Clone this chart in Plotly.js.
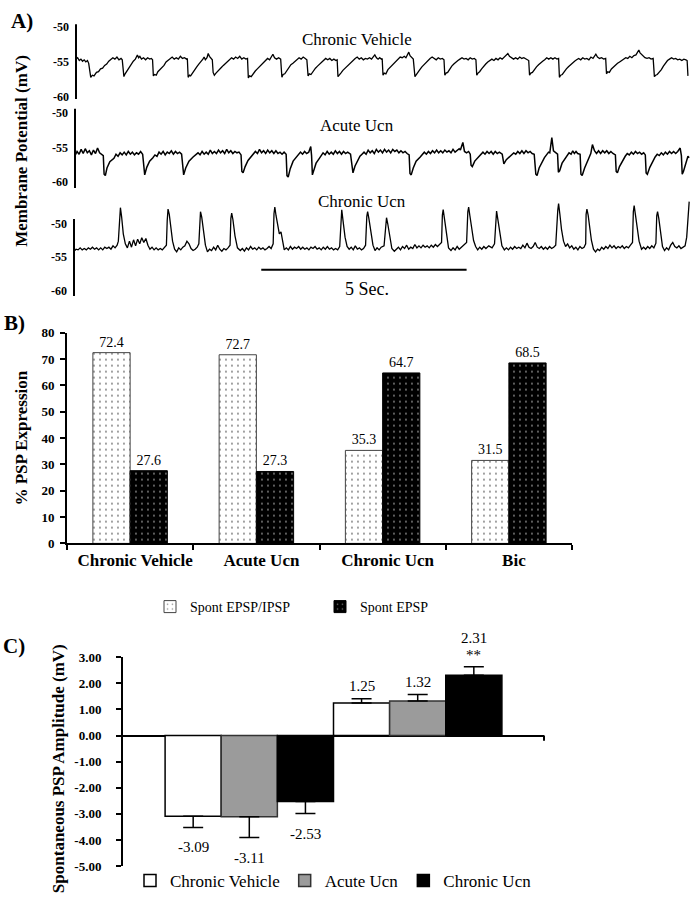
<!DOCTYPE html>
<html>
<head>
<meta charset="utf-8">
<script src="https://cdn.plot.ly/plotly-3.0.1.min.js"></script>
<style>html,body{margin:0;padding:0;background:#fff;}#chart{width:698px;height:899px;}</style>
</head>
<body>
<div id="chart"></div>
<script>
// ---------- Panel A: membrane potential traces [time (s), mV] ----------
const traceChronicVehicle = [
[0.00,-54.6],[0.04,-54.4],[0.08,-54.8],[0.12,-54.6],[0.16,-54.9],[0.20,-54.7],[0.24,-55.0],[0.28,-54.8],[0.31,-55.2],
[0.34,-56.6],[0.36,-57.2],[0.40,-56.9],[0.44,-57.0],[0.50,-56.5],[0.55,-56.4],[0.60,-56.0],[0.65,-55.9],[0.70,-55.5],[0.75,-55.3],[0.80,-54.9],[0.85,-54.7],[0.90,-54.4],[0.95,-54.6],[1.00,-54.3],[1.05,-54.7],[1.10,-54.5],[1.13,-54.7],
[1.15,-56.8],[1.17,-57.1],[1.20,-56.7],[1.25,-56.2],[1.30,-55.8],[1.35,-55.4],[1.40,-54.9],[1.45,-54.6],[1.50,-54.0],[1.53,-54.4],[1.56,-54.2],[1.60,-54.6],[1.65,-54.4],[1.70,-54.7],[1.75,-54.4],[1.80,-54.6],[1.84,-54.5],[1.87,-54.7],
[1.89,-57.0],[1.92,-56.8],[1.96,-56.9],[2.00,-56.4],[2.05,-56.1],[2.10,-55.7],[2.15,-55.5],[2.20,-55.0],[2.25,-54.8],[2.30,-54.5],[2.35,-54.3],[2.40,-54.6],[2.45,-54.4],[2.50,-54.6],[2.55,-54.2],[2.60,-54.5],[2.65,-54.4],[2.70,-54.6],[2.72,-54.5],
[2.74,-57.2],[2.77,-56.9],[2.80,-57.0],[2.85,-56.5],[2.90,-56.1],[2.95,-55.7],[3.00,-55.3],[3.05,-55.0],[3.10,-54.6],[3.13,-54.3],[3.16,-54.7],[3.20,-54.4],[3.23,-53.8],[3.26,-54.2],[3.30,-54.5],[3.33,-54.7],
[3.35,-56.5],[3.38,-56.9],[3.42,-56.6],[3.46,-56.3],[3.50,-56.1],[3.55,-55.8],[3.60,-55.5],[3.65,-55.2],[3.70,-54.9],[3.75,-54.7],[3.80,-54.4],[3.85,-54.6],[3.90,-54.3],[3.95,-54.5],[4.00,-54.2],[4.05,-54.6],[4.10,-54.4],[4.15,-54.6],[4.19,-54.5],
[4.21,-57.3],[4.24,-57.0],[4.28,-57.1],[4.33,-56.6],[4.38,-56.3],[4.43,-56.0],[4.48,-55.7],[4.53,-55.5],[4.58,-55.2],[4.63,-54.9],[4.68,-54.5],[4.73,-54.7],[4.78,-54.2],[4.81,-53.9],[4.85,-54.4],[4.90,-54.6],[4.95,-54.4],[5.00,-54.6],
[5.03,-57.2],[5.06,-56.8],[5.10,-56.7],[5.15,-56.2],[5.20,-55.8],[5.25,-55.4],[5.30,-55.2],[5.35,-54.9],[5.40,-54.6],[5.45,-54.4],[5.50,-54.6],[5.55,-54.3],[5.60,-54.5],[5.64,-54.7],
[5.67,-57.0],[5.70,-56.7],[5.74,-56.8],[5.80,-56.2],[5.85,-55.9],[5.90,-55.6],[5.95,-55.3],[6.00,-55.1],[6.05,-54.8],[6.10,-54.5],[6.15,-54.7],[6.20,-54.5],[6.25,-54.8],[6.30,-54.6],[6.35,-54.8],[6.38,-54.7],
[6.40,-57.1],[6.43,-56.8],[6.47,-56.6],[6.52,-56.2],[6.57,-55.9],[6.62,-55.6],[6.67,-55.3],[6.72,-55.0],[6.77,-54.8],[6.82,-54.5],[6.87,-54.3],[6.92,-54.6],[6.97,-54.4],[7.02,-54.7],[7.07,-54.5],[7.12,-54.6],[7.17,-54.4],[7.22,-54.6],[7.27,-54.2],[7.30,-54.0],[7.34,-54.4],[7.38,-54.6],[7.42,-54.4],[7.46,-54.6],[7.48,-54.5],
[7.50,-56.9],[7.53,-56.6],[7.57,-56.7],[7.62,-56.1],[7.67,-55.8],[7.72,-55.5],[7.77,-55.2],[7.82,-54.9],[7.87,-54.6],[7.92,-54.3],[7.97,-54.4],[8.02,-54.2],[8.06,-54.4],[8.10,-53.8],[8.13,-53.6],[8.16,-54.1],[8.20,-54.4],[8.24,-54.6],
[8.28,-57.1],[8.31,-56.8],[8.35,-56.6],[8.40,-56.1],[8.45,-55.7],[8.50,-55.4],[8.55,-55.0],[8.60,-54.8],[8.65,-54.5],[8.70,-54.3],[8.75,-54.5],[8.80,-54.7],[8.85,-54.4],[8.90,-54.6],[8.95,-54.5],[8.99,-54.7],
[9.01,-56.9],[9.04,-56.6],[9.08,-56.5],[9.13,-56.0],[9.18,-55.6],[9.23,-55.3],[9.28,-55.0],[9.33,-54.8],[9.38,-54.6],[9.43,-54.4],[9.48,-54.6],[9.53,-54.5],[9.58,-54.7],[9.63,-54.4],[9.68,-54.6],[9.73,-54.5],[9.77,-54.7],
[9.79,-56.9],[9.82,-56.6],[9.86,-56.4],[9.91,-56.0],[9.96,-55.6],[10.01,-55.3],[10.06,-55.0],[10.11,-54.8],[10.16,-54.6],[10.21,-54.8],[10.26,-54.5],[10.31,-54.7],[10.36,-54.4],[10.41,-54.6],[10.46,-54.3],[10.51,-54.1],[10.55,-53.8],[10.59,-54.2],[10.64,-54.4],[10.69,-54.6],[10.74,-54.4],[10.79,-54.6],[10.84,-54.3],[10.89,-54.5],[10.94,-54.4],[10.99,-54.6],[11.03,-54.7],[11.06,-54.8],
[11.08,-56.9],[11.11,-56.6],[11.15,-56.5],[11.20,-56.0],[11.25,-55.7],[11.30,-55.4],[11.35,-55.1],[11.40,-54.9],[11.45,-54.7],[11.50,-54.4],[11.55,-54.6],[11.60,-54.4],[11.65,-54.6],[11.70,-54.4],[11.75,-54.6],[11.79,-54.5],
[11.81,-57.2],[11.84,-56.9],[11.88,-56.8],[11.93,-56.3],[11.98,-56.0],[12.03,-55.7],[12.08,-55.4],[12.13,-55.2],[12.18,-54.9],[12.23,-54.7],[12.28,-54.5],[12.33,-54.7],[12.38,-54.4],[12.43,-54.6],[12.48,-54.5],[12.53,-54.7],[12.58,-54.3],[12.63,-54.5],[12.67,-54.1],[12.70,-53.9],[12.74,-54.3],[12.79,-54.5],[12.84,-54.4],[12.89,-54.6],[12.94,-54.5],
[12.96,-56.7],[12.99,-56.4],[13.03,-56.5],[13.08,-56.0],[13.13,-55.7],[13.18,-55.5],[13.23,-55.2],[13.28,-55.0],[13.33,-54.8],[13.38,-54.6],[13.43,-54.4],[13.48,-54.5],[13.53,-54.2],[13.58,-54.4],[13.63,-54.1],[13.68,-54.0],[13.72,-53.6],[13.75,-53.3],[13.78,-53.7],[13.82,-53.9],[13.86,-54.2],[13.90,-54.4],[13.95,-54.5],[14.00,-54.4],[14.05,-54.6],[14.10,-54.5],
[14.13,-57.1],[14.16,-56.9],[14.20,-56.8],[14.25,-56.5],[14.30,-56.1],[14.35,-55.6],[14.40,-55.1],[14.45,-54.8],[14.50,-54.6],[14.55,-54.4],[14.60,-54.6],[14.65,-54.5],[14.70,-54.7],[14.75,-54.6],[14.80,-54.8],[14.85,-54.6],[14.90,-54.7],[14.93,-54.8],[14.95,-57.0]
];
const traceAcuteUcn = [
[0.00,-56.2],[0.05,-55.6],[0.10,-56.0],[0.15,-55.3],[0.20,-55.9],[0.25,-55.2],[0.30,-55.8],[0.35,-55.5],[0.40,-56.1],[0.45,-55.4],[0.50,-55.9],[0.55,-55.1],[0.60,-55.8],[0.65,-56.0],
[0.69,-56.2],[0.71,-58.9],[0.74,-59.1],[0.78,-58.0],[0.85,-57.1],[0.95,-56.6],[1.00,-56.0],[1.05,-56.3],[1.10,-55.8],[1.15,-56.1],[1.20,-55.7],[1.25,-56.1],[1.30,-55.6],[1.35,-56.0],[1.40,-55.7],[1.45,-56.1],[1.50,-55.8],[1.55,-56.0],[1.60,-55.6],[1.65,-56.0],
[1.68,-58.8],[1.70,-59.0],[1.75,-57.9],[1.82,-57.0],[1.90,-56.5],[1.95,-56.1],[2.00,-56.3],[2.05,-55.7],[2.10,-56.0],[2.15,-55.6],[2.20,-56.1],[2.25,-55.7],[2.30,-55.9],[2.35,-55.5],[2.40,-56.0],[2.45,-55.6],[2.50,-55.9],[2.55,-55.7],[2.60,-56.0],
[2.63,-58.7],[2.65,-59.0],[2.70,-58.0],[2.78,-57.0],[2.88,-56.4],[2.95,-56.1],[3.00,-55.8],[3.05,-56.1],[3.10,-55.6],[3.15,-56.0],[3.20,-55.7],[3.25,-56.0],[3.30,-55.4],[3.35,-55.9],[3.40,-55.6],[3.45,-55.9],[3.50,-55.4],[3.55,-55.8],[3.60,-55.5],[3.65,-55.9],[3.70,-55.3],[3.75,-55.8],[3.80,-55.5],[3.85,-55.9],[3.90,-55.6],[3.95,-55.8],[4.00,-55.7],[4.05,-56.1],
[4.07,-58.5],[4.10,-58.7],[4.15,-57.8],[4.22,-56.9],[4.30,-56.3],[4.35,-55.9],[4.40,-55.6],[4.45,-55.9],[4.50,-55.3],[4.55,-55.8],[4.60,-55.5],[4.65,-55.9],[4.70,-55.4],[4.75,-55.8],[4.80,-55.5],[4.85,-55.9],[4.90,-55.5],[4.95,-55.9],[5.00,-55.7],[5.05,-56.0],[5.10,-55.7],[5.15,-56.0],
[5.17,-59.1],[5.20,-59.3],[5.25,-58.1],[5.32,-57.0],[5.40,-56.4],[5.45,-56.0],[5.50,-55.7],[5.55,-56.0],[5.60,-55.6],[5.65,-55.9],[5.70,-55.7],[5.75,-54.9],[5.77,-56.2],
[5.79,-59.0],[5.82,-58.4],[5.88,-57.3],[5.96,-56.6],[6.00,-56.2],[6.05,-55.8],[6.10,-56.1],[6.15,-55.6],[6.20,-56.0],[6.25,-55.7],[6.30,-56.0],[6.35,-55.5],[6.40,-55.9],[6.45,-55.6],[6.50,-56.0],[6.55,-55.6],[6.60,-55.9],[6.65,-55.7],[6.72,-56.0],
[6.76,-58.5],[6.78,-58.7],[6.83,-57.7],[6.90,-56.8],[6.95,-56.3],[7.00,-56.0],[7.05,-55.7],[7.10,-56.0],[7.15,-55.4],[7.20,-55.8],[7.25,-55.5],[7.30,-55.9],[7.35,-55.3],[7.40,-55.7],[7.45,-55.4],[7.50,-55.8],[7.55,-55.3],[7.60,-55.7],[7.65,-55.4],[7.70,-55.8],[7.75,-55.3],[7.80,-55.6],[7.85,-55.4],[7.90,-55.8],[7.95,-55.5],[8.00,-55.8],[8.05,-55.6],[8.10,-55.9],[8.15,-56.1],
[8.17,-58.8],[8.20,-59.0],[8.25,-58.0],[8.32,-57.0],[8.42,-56.4],[8.47,-56.0],[8.52,-55.7],[8.57,-56.0],[8.62,-55.6],[8.67,-55.9],[8.72,-55.5],[8.77,-55.8],[8.82,-55.4],[8.87,-55.8],[8.92,-55.5],[8.97,-55.8],[9.02,-55.4],[9.07,-55.7],[9.12,-55.5],[9.17,-55.8],[9.22,-55.3],[9.27,-55.7],[9.32,-55.5],[9.37,-55.2],[9.40,-55.4],[9.46,-54.3],[9.50,-55.6],[9.55,-55.8],[9.60,-55.6],[9.64,-56.0],
[9.66,-57.6],[9.69,-57.8],[9.75,-57.0],[9.85,-56.4],[9.90,-56.0],[9.95,-55.7],[10.00,-56.0],[10.05,-55.6],[10.10,-55.9],[10.15,-55.6],[10.20,-56.0],[10.25,-55.6],[10.30,-55.9],[10.35,-55.7],[10.42,-56.0],
[10.44,-57.2],[10.46,-57.4],[10.52,-56.8],[10.60,-56.3],[10.65,-56.0],[10.70,-55.8],[10.75,-56.0],[10.80,-55.6],[10.85,-55.9],[10.90,-55.5],[10.95,-55.9],[11.00,-55.5],[11.05,-55.8],[11.10,-55.6],[11.15,-55.9],[11.20,-56.0],
[11.24,-58.9],[11.27,-59.1],[11.32,-58.0],[11.40,-57.0],[11.45,-56.5],[11.50,-56.1],[11.55,-55.7],[11.58,-55.8],[11.63,-53.6],[11.67,-55.5],[11.73,-55.8],[11.77,-56.0],
[11.79,-58.6],[11.82,-58.4],[11.88,-57.3],[11.96,-56.5],[12.01,-56.1],[12.05,-55.8],[12.10,-56.0],[12.14,-55.5],[12.18,-55.9],[12.22,-55.6],[12.26,-55.9],[12.32,-56.0],
[12.34,-58.9],[12.37,-59.1],[12.43,-58.0],[12.50,-57.0],[12.55,-56.2],[12.58,-55.9],[12.62,-54.6],[12.67,-55.5],[12.72,-55.9],[12.77,-55.5],[12.82,-55.9],[12.87,-55.5],[12.92,-55.8],[12.97,-55.5],[13.02,-55.9],[13.07,-55.6],[13.12,-55.9],[13.18,-56.1],
[13.20,-58.5],[13.23,-58.7],[13.28,-57.8],[13.36,-56.8],[13.42,-56.3],[13.47,-55.9],[13.52,-56.1],[13.57,-55.7],[13.62,-56.0],[13.67,-55.6],[13.72,-55.9],[13.77,-55.7],[13.82,-56.0],[13.87,-55.8],[13.91,-56.1],
[13.93,-58.7],[13.96,-58.9],[14.02,-57.9],[14.10,-56.9],[14.15,-56.4],[14.20,-56.0],[14.25,-56.2],[14.30,-55.8],[14.35,-56.1],[14.40,-55.7],[14.45,-56.0],[14.50,-55.6],[14.55,-55.9],[14.60,-55.6],[14.65,-55.9],[14.70,-55.6],[14.76,-55.1],[14.79,-56.2],
[14.81,-58.9],[14.84,-58.5],[14.90,-57.2],[14.95,-56.3],[14.98,-56.5]
];
const traceChronicUcn = [
[0.00,-54.1],[0.05,-53.8],[0.10,-53.9],[0.15,-53.6],[0.20,-53.9],[0.25,-53.7],[0.30,-53.9],[0.35,-53.6],[0.40,-53.8],[0.45,-53.5],[0.50,-53.8],[0.55,-53.6],[0.60,-53.9],[0.65,-53.6],[0.70,-53.9],[0.75,-53.5],[0.80,-53.7],[0.85,-53.5],[0.90,-53.8],[0.95,-53.3],[1.00,-53.6],[1.05,-53.2],
[1.08,-52.6],[1.11,-48.5],[1.13,-47.6],[1.16,-49.0],[1.20,-51.5],[1.25,-53.0],[1.30,-53.6],[1.35,-52.6],[1.40,-53.5],[1.45,-52.4],[1.50,-53.3],[1.55,-52.3],[1.60,-53.0],[1.65,-52.1],[1.70,-52.8],[1.75,-52.2],[1.80,-53.2],[1.85,-53.8],[1.90,-53.5],[1.95,-53.9],[2.00,-53.6],[2.05,-53.9],[2.10,-53.7],[2.15,-53.9],[2.20,-53.6],[2.25,-53.2],
[2.27,-49.5],[2.29,-47.8],[2.32,-48.6],[2.36,-50.6],[2.40,-52.6],[2.45,-53.8],[2.50,-54.2],[2.55,-53.6],[2.60,-53.9],[2.65,-53.5],[2.70,-53.3],[2.75,-52.6],[2.80,-53.0],[2.85,-53.7],[2.90,-54.0],[2.95,-53.8],[3.00,-53.5],[3.04,-53.0],
[3.06,-49.0],[3.08,-48.2],[3.11,-49.0],[3.15,-51.2],[3.20,-53.2],[3.25,-54.2],[3.30,-53.8],[3.35,-54.0],[3.40,-53.5],[3.45,-53.9],[3.50,-53.2],[3.55,-53.8],[3.60,-54.1],[3.65,-53.7],[3.70,-53.9],[3.75,-53.6],[3.80,-53.2],
[3.82,-49.2],[3.84,-48.4],[3.87,-49.4],[3.92,-51.8],[3.98,-53.6],[4.05,-54.0],[4.10,-53.7],[4.15,-54.1],[4.20,-53.6],[4.25,-53.9],[4.30,-53.4],[4.35,-53.8],[4.40,-53.6],[4.45,-53.9],[4.50,-53.5],[4.55,-53.8],[4.60,-53.6],[4.65,-53.9],[4.70,-53.7],[4.75,-53.4],[4.80,-53.7],[4.85,-53.0],
[4.87,-48.5],[4.89,-47.5],[4.92,-48.8],[4.96,-50.2],[5.00,-51.5],[5.04,-51.2],[5.08,-52.8],[5.12,-53.9],[5.17,-53.6],[5.22,-53.9],[5.27,-53.4],[5.32,-53.8],[5.37,-53.5],[5.42,-53.7],[5.47,-53.4],[5.52,-53.8],[5.57,-53.5],[5.62,-53.8],[5.67,-53.6],[5.72,-53.9],[5.77,-53.5],[5.82,-53.7],[5.87,-53.4],[5.92,-53.8],[5.97,-53.6],[6.02,-53.9],[6.07,-53.5],[6.12,-53.8],[6.17,-53.4],[6.22,-53.8],[6.27,-53.6],[6.32,-53.9],[6.37,-53.7],[6.42,-53.9],[6.47,-53.4],
[6.50,-48.8],[6.52,-47.9],[6.55,-49.5],[6.60,-52.0],[6.65,-53.4],[6.70,-53.8],[6.75,-53.5],[6.80,-53.9],[6.85,-53.3],[6.90,-53.8],[6.95,-53.6],[7.00,-53.9],[7.05,-53.7],[7.10,-53.2],
[7.13,-48.9],[7.15,-48.2],[7.18,-49.2],[7.23,-51.5],[7.28,-53.2],[7.33,-54.0],[7.38,-53.6],[7.43,-53.9],[7.48,-53.5],[7.55,-53.3],
[7.59,-49.8],[7.61,-49.1],[7.64,-50.0],[7.69,-52.2],[7.74,-53.7],[7.80,-54.1],[7.85,-53.8],[7.90,-53.5],[7.95,-53.9],[8.00,-53.4],[8.05,-53.7],[8.10,-53.2],[8.15,-53.8],[8.20,-53.5],[8.25,-53.7],[8.30,-53.1],[8.35,-53.6],[8.40,-53.3],[8.45,-53.6],[8.50,-53.2],[8.55,-53.5],[8.60,-53.3],[8.65,-53.6],[8.70,-53.2],[8.75,-53.5],[8.80,-53.1],[8.85,-53.4],[8.90,-53.1],[8.95,-52.8],
[8.97,-48.7],[8.99,-47.9],[9.02,-49.2],[9.07,-51.8],[9.12,-53.6],[9.18,-54.0],[9.23,-53.6],[9.28,-53.9],[9.33,-53.4],[9.38,-53.8],[9.43,-53.5],[9.50,-53.2],[9.56,-52.8],
[9.59,-48.2],[9.61,-47.5],[9.64,-48.8],[9.68,-50.8],[9.73,-52.5],[9.78,-53.4],[9.83,-53.9],[9.88,-53.5],[9.93,-53.8],[9.98,-53.4],[10.03,-53.7],[10.10,-53.3],[10.18,-53.6],[10.24,-53.0],
[10.27,-48.8],[10.29,-48.1],[10.32,-49.3],[10.37,-51.6],[10.42,-53.3],[10.48,-53.9],[10.53,-53.6],[10.58,-53.9],[10.63,-53.5],[10.68,-53.8],[10.73,-53.4],[10.78,-53.7],[10.83,-53.5],[10.88,-53.7],[10.93,-53.2],[10.98,-53.6],[11.03,-52.9],[11.08,-53.5],[11.13,-53.7],[11.18,-53.4],[11.23,-52.8],[11.28,-53.5],[11.33,-53.7],[11.38,-53.4],[11.43,-53.8],[11.48,-53.5],[11.53,-53.8],[11.58,-53.4],[11.63,-53.7],[11.68,-53.5],[11.73,-53.2],
[11.78,-48.0],[11.80,-47.0],[11.83,-48.5],[11.87,-50.8],[11.92,-52.6],[11.97,-53.4],[12.02,-53.0],[12.07,-53.6],[12.12,-53.3],[12.17,-53.8],[12.22,-53.5],[12.27,-53.9],[12.32,-53.4],[12.37,-53.7],[12.42,-53.5],[12.46,-53.0],
[12.47,-48.6],[12.49,-47.8],[12.52,-48.7],[12.56,-50.5],[12.60,-52.5],[12.65,-53.8],[12.70,-54.2],[12.75,-53.8],[12.80,-54.0],[12.85,-53.5],[12.90,-53.8],[12.95,-53.4],[13.00,-53.7],[13.05,-53.2],[13.10,-53.6],[13.15,-53.3],[13.20,-53.7],[13.25,-53.4],[13.30,-53.6],[13.35,-53.3],[13.40,-53.7],[13.45,-53.4],[13.50,-53.6],[13.55,-53.2],[13.60,-52.8],
[13.62,-48.2],[13.64,-47.3],[13.67,-48.6],[13.71,-50.6],[13.76,-52.6],[13.82,-53.8],[13.87,-53.5],[13.92,-53.8],[13.97,-53.4],[14.02,-53.7],[14.07,-53.3],[14.12,-53.6],[14.17,-52.9],
[14.19,-48.8],[14.21,-48.2],[14.24,-49.2],[14.28,-51.5],[14.33,-53.4],[14.38,-54.0],[14.43,-53.6],[14.48,-53.9],[14.53,-53.2],[14.58,-52.8],[14.63,-53.4],[14.68,-53.6],[14.73,-53.3],[14.78,-53.7],[14.83,-53.5],[14.88,-53.3],[14.92,-52.0],[14.95,-49.5],[14.98,-46.7]
];
const aTickVals = [-60, -55, -50];
const aTickText = ["-60", "-55", "-50"];
const scaleBarSec = [4.56, 9.56];

// ---------- Panel B ----------
const bCategories = ["Chronic Vehicle", "Acute Ucn", "Chronic Ucn", "Bic"];
const bEpspIpsp = [72.4, 71.6, 35.3, 31.5];
const bEpspIpspLabels = ["72.4", "72.7", "35.3", "31.5"];
const bEpsp = [27.6, 27.3, 64.7, 68.5];
const bEpspLabels = ["27.6", "27.3", "64.7", "68.5"];

// ---------- Panel C ----------
const cGroups = ["Spont IPSP", "Spont EPSP"];
const cVehicle = [-3.09, 1.25];
const cVehicleErr = [0.43, 0.16];
const cAcute = [-3.11, 1.32];
const cAcuteErr = [0.80, 0.25];
const cChronic = [-2.53, 2.31];
const cChronicErr = [0.46, 0.33];
const cChronicSig = ["", "**"];
const cTickVals = [-5, -4, -3, -2, -1, 0, 1, 2, 3];
const cTickText = ["-5.00", "-4.00", "-3.00", "-2.00", "-1.00", "0.00", "1.00", "2.00", "3.00"];

// ---------- helpers ----------
const W = 698, H = 899;
const fx = p => p / W;
const fy = p => 1 - p / H;
const FONT = "Liberation Serif";
const col = (arr, i) => arr.map(d => d[i]);
const reg = size => ({family: FONT, size: size, color: 'black'});
const bold = size => ({family: FONT, size: size, color: 'black', weight: 'bold'});

const traces = [];
[[traceChronicVehicle, 'x', 'y', 1.3], [traceAcuteUcn, 'x2', 'y2', 1.5], [traceChronicUcn, 'x3', 'y3', 1.3]].forEach(([d, xa, ya, lw]) => {
  traces.push({type: 'scatter', mode: 'lines', x: col(d, 0), y: col(d, 1), xaxis: xa, yaxis: ya,
    line: {color: 'black', width: lw}, showlegend: false, hoverinfo: 'skip'});
});

traces.push({type: 'bar', name: 'Spont EPSP/IPSP', x: bCategories, y: bEpspIpsp, text: bEpspIpspLabels,
  textposition: 'outside', cliponaxis: false, xaxis: 'x4', yaxis: 'y4', legend: 'legend',
  outsidetextfont: reg(14),
  marker: {color: 'white', line: {color: '#444', width: 1},
    pattern: {shape: '.', size: 6, solidity: 0.08, fgcolor: 'black', bgcolor: 'white', fillmode: 'overlay'}}});
traces.push({type: 'bar', name: 'Spont EPSP', x: bCategories, y: bEpsp, text: bEpspLabels,
  textposition: 'outside', cliponaxis: false, xaxis: 'x4', yaxis: 'y4', legend: 'legend',
  outsidetextfont: reg(14),
  marker: {color: 'black', line: {color: 'black', width: 1},
    pattern: {shape: '.', size: 6, solidity: 0.08, fgcolor: 'white', bgcolor: 'black', fillmode: 'overlay'}}});

const cSeries = [
  {name: 'Chronic Vehicle', v: cVehicle, e: cVehicleErr, sig: null, color: 'white', line: 'black', off: -0.5},
  {name: 'Acute Ucn', v: cAcute, e: cAcuteErr, sig: null, color: '#9b9b9b', line: '#333', off: -1/6},
  {name: 'Chronic Ucn', v: cChronic, e: cChronicErr, sig: cChronicSig, color: 'black', line: 'black', off: 1/6}
];
const annotations = [];
cSeries.forEach(s => {
  traces.push({type: 'bar', name: s.name, x: cGroups, y: s.v, width: 1/3, offset: s.off,
    xaxis: 'x5', yaxis: 'y5', legend: 'legend2',
    marker: {color: s.color, line: {color: s.line, width: 1.5}},
    error_y: {type: 'data', symmetric: false,
      array: s.v.map((v, i) => v > 0 ? s.e[i] : 0),
      arrayminus: s.v.map((v, i) => v < 0 ? s.e[i] : 0),
      color: 'black', thickness: 1.5, width: 10}});
  s.v.forEach((v, i) => {
    const yEnd = v > 0 ? v + s.e[i] : v - s.e[i];
    const xc = i + s.off + 1/6;
    const hasSig = s.sig && s.sig[i];
    annotations.push({xref: 'x5', yref: 'y5', x: xc, y: yEnd, text: v.toFixed(2), showarrow: false,
      yshift: v < 0 ? -20 : (hasSig ? 29 : 13), font: reg(15)});
    if (hasSig) annotations.push({xref: 'x5', yref: 'y5', x: xc, y: yEnd, text: s.sig[i], showarrow: false,
      yshift: 12, font: reg(15)});
  });
});

function txt(x, y, text, size, isBold, angle) {
  return {xref: 'paper', yref: 'paper', x: fx(x), y: fy(y), text: text, showarrow: false,
    xanchor: 'center', yanchor: 'middle', textangle: angle || 0,
    font: isBold ? bold(size) : reg(size)};
}
annotations.push(
  txt(22, 21, 'A)', 21, true), txt(14, 323, 'B)', 21, true), txt(14, 647, 'C)', 21, true),
  txt(357, 40, 'Chronic Vehicle', 17), txt(357, 126, 'Acute Ucn', 17), txt(362, 202, 'Chronic Ucn', 17),
  txt(367, 289, '5 Sec.', 18),
  txt(22, 151, 'Membrane Potential (mV)', 17, true, -90),
  txt(22, 439, '% PSP Expression', 17, true, -90),
  txt(58, 770, 'Spontaneous PSP Amplitude (mV)', 17, true, -90)
);

const shapes = [
  {type: 'line', xref: 'x domain', yref: 'y', x0: 0, x1: 0, y0: -49.6, y1: -60.3, line: {color: 'black', width: 2}},
  {type: 'line', xref: 'x2 domain', yref: 'y2', x0: 0, x1: 0, y0: -49.4, y1: -60.9, line: {color: 'black', width: 2}},
  {type: 'line', xref: 'x3 domain', yref: 'y3', x0: 0, x1: 0, y0: -49.3, y1: -60.8, line: {color: 'black', width: 2}},
  {type: 'line', xref: 'x3', yref: 'paper', x0: scaleBarSec[0], x1: scaleBarSec[1], y0: fy(270), y1: fy(270), line: {color: 'black', width: 2}},
  {type: 'line', xref: 'x5 domain', yref: 'y5', x0: 1, x1: 1, y0: 0, y1: -0.2, line: {color: 'black', width: 2}}
];

const aY = (dom, rng) => ({domain: dom, range: rng, tickvals: aTickVals, ticktext: aTickText, ticks: '',
  showgrid: false, zeroline: false, showline: false, ticklabelstandoff: 6, tickfont: bold(12)});
const aX = dom => ({domain: dom, range: [0, 15], visible: false, showgrid: false, zeroline: false});

const layout = {
  width: W, height: H, margin: {l: 0, r: 0, t: 0, b: 0},
  paper_bgcolor: 'white', plot_bgcolor: 'rgba(0,0,0,0)',
  font: {family: FONT, color: 'black'},
  barmode: 'group', bargap: 0.41, bargroupgap: 0,
  showlegend: true,
  xaxis: aX([fx(76), fx(690)]),
  yaxis: Object.assign(aY([fy(100), fy(20)], [-60.43, -49.0]), {anchor: 'x'}),
  xaxis2: Object.assign(aX([fx(75), fx(690)]), {anchor: 'y2'}),
  yaxis2: Object.assign(aY([fy(190), fy(106)], [-61.16, -48.99]), {anchor: 'x2'}),
  xaxis3: Object.assign(aX([fx(74), fx(690)]), {anchor: 'y3'}),
  yaxis3: Object.assign(aY([fy(300), fy(198)], [-61.34, -46.12]), {anchor: 'x3'}),
  xaxis4: {domain: [fx(67), fx(572)], type: 'category', range: [-0.5, 3.5], anchor: 'y4',
    showline: true, linewidth: 2, linecolor: 'black', ticks: 'outside', tickson: 'boundaries',
    ticklen: 5, tickwidth: 2, tickcolor: 'black', showgrid: false, zeroline: false, ticklabelshift: 5,
    tickfont: bold(17)},
  yaxis4: {domain: [fy(544), fy(333)], range: [0, 80], dtick: 10, tick0: 0, anchor: 'x4',
    showline: true, linewidth: 2, linecolor: 'black', ticks: 'outside', ticklen: 5, tickwidth: 2,
    tickcolor: 'black', showgrid: false, zeroline: false, ticklabelstandoff: 3, tickfont: bold(13)},
  xaxis5: {domain: [fx(123), fx(544)], type: 'category', range: [-0.75, 1.75], anchor: 'y5',
    visible: false, showgrid: false, zeroline: false},
  yaxis5: {domain: [fy(867), fy(658)], range: [-5, 3], tickvals: cTickVals, ticktext: cTickText, anchor: 'x5',
    showline: true, linewidth: 2, linecolor: 'black', ticks: 'outside', ticklen: 5, tickwidth: 2,
    tickcolor: 'black', showgrid: false, zeroline: true, zerolinecolor: 'black', zerolinewidth: 2,
    ticklabelstandoff: 12, tickfont: bold(13)},
  legend: {orientation: 'h', x: fx(150), y: fy(607), xanchor: 'left', yanchor: 'middle',
    font: reg(14), entrywidth: 125, bgcolor: 'rgba(0,0,0,0)'},
  legend2: {orientation: 'h', x: fx(130), y: fy(882), xanchor: 'left', yanchor: 'middle',
    font: reg(17), bgcolor: 'rgba(0,0,0,0)'},
  annotations: annotations,
  shapes: shapes
};

Plotly.newPlot('chart', traces, layout, {displayModeBar: false, staticPlot: true});
</script>
</body>
</html>
